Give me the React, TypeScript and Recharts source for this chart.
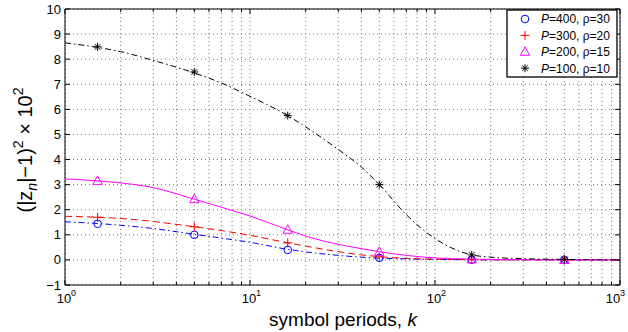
import React from 'react';
import { ComposedChart, Line, Scatter, XAxis, YAxis, CartesianGrid, ReferenceArea } from 'recharts';

// ---- data ----
const K_CURVE = [1, 1.5, 2, 3, 5, 7, 10, 16, 20, 30, 40, 50, 70, 100, 158, 200, 300, 500, 1000];
const CURVE_P400 = [1.52, 1.45, 1.38, 1.25, 1.02, 0.87, 0.7, 0.42, 0.32, 0.18, 0.11, 0.07, 0.04, 0.02, 0.005, 0, 0, 0, 0];
const CURVE_P300 = [1.74, 1.7, 1.65, 1.53, 1.32, 1.17, 0.98, 0.68, 0.55, 0.33, 0.2, 0.13, 0.06, 0.03, 0.01, 0.005, 0, 0, 0];
const CURVE_P200 = [3.23, 3.15, 3.07, 2.88, 2.42, 2.1, 1.75, 1.2, 0.95, 0.62, 0.45, 0.33, 0.18, 0.08, 0.03, 0.02, 0.01, 0, 0];
const CURVE_P100 = [8.65, 8.47, 8.3, 7.95, 7.45, 7.05, 6.52, 5.75, 5.3, 4.4, 3.7, 3.0, 1.8, 0.85, 0.2, 0.11, 0.05, 0.02, 0];

const K_SIM = [1.5, 5, 16, 50, 158, 500];
const SIM_P400 = [1.44, 1.0, 0.4, 0.08, 0.01, 0.0];
const SIM_P300 = [1.7, 1.32, 0.68, 0.12, 0.01, 0.0];
const SIM_P200 = [3.15, 2.42, 1.2, 0.32, 0.02, 0.0];
const SIM_P100 = [8.49, 7.49, 5.75, 3.0, 0.2, 0.02];

const X_TICKS = [1, 2, 3, 4, 5, 6, 7, 8, 9, 10, 20, 30, 40, 50, 60, 70, 80, 90, 100, 200, 300, 400, 500, 600, 700, 800, 900, 1000];
const X_MAJOR = [1, 10, 100, 1000];
const X_MAJOR_EXP = ['0', '1', '2', '3'];
const Y_TICKS = [-1, 0, 1, 2, 3, 4, 5, 6, 7, 8, 9, 10];

const LEGEND_P = ['400', '300', '200', '100'];
const LEGEND_RHO = ['30', '20', '15', '10'];

// ---- layout ----
const W = 628;
const H = 332;
const PL = 65;
const PR = 620;
const PT = 9;
const PB = 285;
const XAXIS_H = 30;
const YAXIS_W = 50;
const FONT = '"Liberation Sans", Arial, Helvetica, sans-serif';

const toPts = (ks: number[], vs: number[]) => ks.map((k, i) => ({ k, v: vs[i] }));

type MType = 'circle' | 'plus' | 'triangle' | 'star';

const Marker = ({ type, cx, cy }: { type: MType; cx: number; cy: number }) => {
  if (cx == null || cy == null || isNaN(cx) || isNaN(cy)) return null;
  if (type === 'circle') {
    return <circle cx={cx} cy={cy} r={3.8} fill="none" stroke="#0000ff" strokeWidth={1} />;
  }
  if (type === 'plus') {
    return (
      <g stroke="#ff0000" strokeWidth={1}>
        <line x1={cx - 4.5} y1={cy} x2={cx + 4.5} y2={cy} />
        <line x1={cx} y1={cy - 4.5} x2={cx} y2={cy + 4.5} />
      </g>
    );
  }
  if (type === 'triangle') {
    return (
      <polygon
        points={`${cx},${cy - 5} ${cx - 4.7},${cy + 3.5} ${cx + 4.7},${cy + 3.5}`}
        fill="none"
        stroke="#ff00ff"
        strokeWidth={1}
      />
    );
  }
  const r = 4;
  const d = r * 0.7071;
  return (
    <g stroke="#000" strokeWidth={1}>
      <line x1={cx - r} y1={cy} x2={cx + r} y2={cy} />
      <line x1={cx} y1={cy - r} x2={cx} y2={cy + r} />
      <line x1={cx - d} y1={cy - d} x2={cx + d} y2={cy + d} />
      <line x1={cx - d} y1={cy + d} x2={cx + d} y2={cy - d} />
    </g>
  );
};

const XTick = (props: any) => {
  const { x, payload } = props;
  const v = payload.value;
  const mi = X_MAJOR.indexOf(v);
  const len = mi >= 0 ? 5 : 3;
  // keep the right-most label inside the picture
  const lx = x > W - 20 ? x - 7 : x - 1;
  return (
    <g>
      <line x1={x} y1={PB} x2={x} y2={PB - len} stroke="#000" strokeWidth={1} />
      <line x1={x} y1={PT} x2={x} y2={PT + len} stroke="#000" strokeWidth={1} />
      {mi >= 0 && (
        <g fontFamily={FONT} fill="#000">
          <text x={lx} y={303} textAnchor="middle" fontSize={13}>10</text>
          <text x={lx + 7} y={296} textAnchor="start" fontSize={9}>{X_MAJOR_EXP[mi]}</text>
        </g>
      )}
    </g>
  );
};

const YTick = (props: any) => {
  const { y, payload } = props;
  const v = payload.value;
  const label = v < 0 ? `\u2212${Math.abs(v)}` : `${v}`;
  return (
    <g>
      <line x1={PL} y1={y} x2={PL + 5} y2={y} stroke="#000" strokeWidth={1} />
      <line x1={PR} y1={y} x2={PR - 5} y2={y} stroke="#000" strokeWidth={1} />
      <text x={61} y={y + 4.5} textAnchor="end" fontSize={13} fontFamily={FONT} fill="#000">
        {label}
      </text>
    </g>
  );
};

const SERIES: { curve: number[]; sim: number[]; color: string; dash?: string; type: MType }[] = [
  { curve: CURVE_P400, sim: SIM_P400, color: '#0000ff', dash: '6 3 1.5 3', type: 'circle' },
  { curve: CURVE_P300, sim: SIM_P300, color: '#ff0000', dash: '7 4', type: 'plus' },
  { curve: CURVE_P200, sim: SIM_P200, color: '#ff00ff', dash: undefined, type: 'triangle' },
  { curve: CURVE_P100, sim: SIM_P100, color: '#000000', dash: '6 3 1.5 3', type: 'star' },
];

export default function App() {
  return (
    <div style={{ position: 'absolute', left: 0, top: 0, width: W, height: H, background: '#fff' }}>
      <ComposedChart
        width={W}
        height={H}
        margin={{ top: PT, right: W - PR, bottom: H - PB - XAXIS_H, left: PL - YAXIS_W }}
      >
        <CartesianGrid stroke="#777" strokeDasharray="1 3" strokeWidth={1} />
        <XAxis
          dataKey="k"
          type="number"
          scale="log"
          domain={[1, 1000]}
          allowDataOverflow
          ticks={X_TICKS}
          interval={0}
          height={XAXIS_H}
          tickLine={false}
          axisLine={false}
          tick={(p: any) => <XTick {...p} />}
        />
        <YAxis
          dataKey="v"
          type="number"
          domain={[-1, 10]}
          allowDataOverflow
          ticks={Y_TICKS}
          interval={0}
          width={YAXIS_W}
          tickLine={false}
          axisLine={false}
          tick={(p: any) => <YTick {...p} />}
        />
        <ReferenceArea x1={1} x2={1000} y1={-1} y2={10} fill="none" stroke="#000" strokeWidth={1} fillOpacity={0} />
        {SERIES.map((s, i) => (
          <Line
            key={`c${i}`}
            data={toPts(K_CURVE, s.curve)}
            dataKey="v"
            type="monotone"
            stroke={s.color}
            strokeWidth={1}
            strokeDasharray={s.dash}
            dot={false}
            activeDot={false}
            isAnimationActive={false}
          />
        ))}
        {SERIES.map((s, i) => (
          <Scatter
            key={`s${i}`}
            data={toPts(K_SIM, s.sim)}
            dataKey="v"
            isAnimationActive={false}
            shape={(p: any) => <Marker type={s.type} cx={p.cx} cy={p.cy} />}
          />
        ))}
      </ComposedChart>
      <svg
        width={W}
        height={H}
        style={{ position: 'absolute', left: 0, top: 0, pointerEvents: 'none' }}
        fontFamily={FONT}
      >
        <text x={343} y={326} textAnchor="middle" fontSize={19} fill="#000">
          symbol periods, <tspan fontStyle="italic">k</tspan>
        </text>
        <text transform="translate(32,150) rotate(-90)" textAnchor="middle" fontSize={20} fill="#000">
          (|z<tspan fontSize={14} fontStyle="italic" dy={5}>n</tspan>
          <tspan dy={-5}>|−1)</tspan>
          <tspan fontSize={14} dy={-9}>2</tspan>
          <tspan dy={9}> × 10</tspan>
          <tspan fontSize={14} dy={-9}>2</tspan>
        </text>
        <rect x={507} y={10} width={110} height={67} fill="#fff" stroke="#000" strokeWidth={1.3} />
        {SERIES.map((s, i) => {
          const cy = 19 + i * 16.4;
          return (
            <g key={`lg${i}`}>
              <Marker type={s.type} cx={525} cy={cy} />
              <text x={541} y={cy + 4.3} fontSize={12} fill="#000">
                <tspan fontStyle="italic">P</tspan>={LEGEND_P[i]}, ρ={LEGEND_RHO[i]}
              </text>
            </g>
          );
        })}
      </svg>
    </div>
  );
}
